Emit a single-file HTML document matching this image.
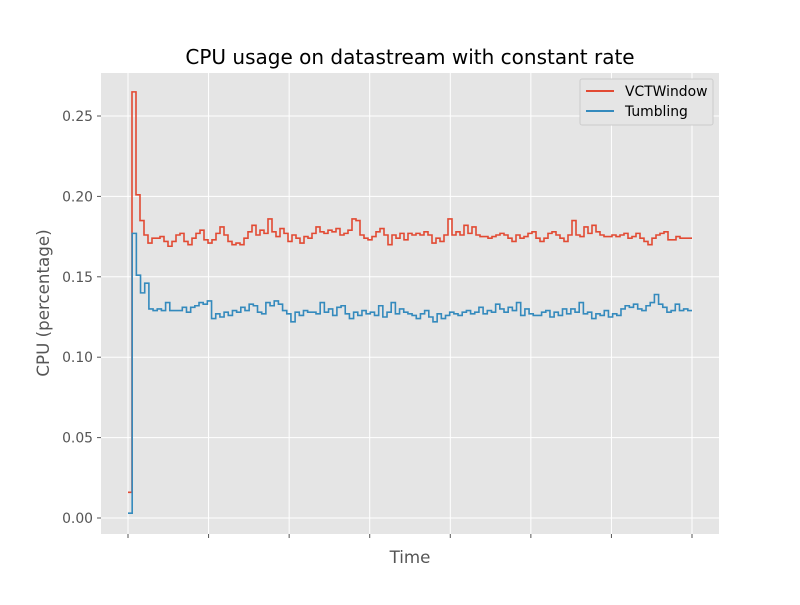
<!DOCTYPE html>
<html><head><meta charset="utf-8"><style>
body{margin:0;background:#fff;}
svg{font-family:"DejaVu Sans","Liberation Sans",sans-serif;}
</style></head><body>
<svg id="chart" width="800" height="600" viewBox="0 0 800 600" xmlns="http://www.w3.org/2000/svg">
<rect x="0" y="0" width="800" height="600" fill="#fff"/>
<rect x="101" y="73" width="618" height="461" fill="#e5e5e5"/>
<g id="grid"></g>
<g id="ticks"></g>
<g id="series"></g>
<text x="410" y="64" font-size="20" text-anchor="middle" fill="#000">CPU usage on datastream with constant rate</text>
<text x="410" y="563" font-size="16.7" text-anchor="middle" fill="#555">Time</text>
<text transform="translate(49,303) rotate(-90)" font-size="16.7" text-anchor="middle" fill="#555">CPU (percentage)</text>
<g>
<rect x="580" y="79" width="133" height="46" fill="#e5e5e5" stroke="#ccc" stroke-width="1" rx="2"/>
<line x1="586" y1="91" x2="614" y2="91" stroke="#e24a33" stroke-width="2"/>
<text x="625" y="96" font-size="13.9" fill="#000">VCTWindow</text>
<line x1="586" y1="111" x2="614" y2="111" stroke="#348abd" stroke-width="2"/>
<text x="625" y="116" font-size="13.9" fill="#000">Tumbling</text>
</g>
</svg>
<script>
const yTicks=[0.00,0.05,0.10,0.15,0.20,0.25];
const yTickLabels=["0.00","0.05","0.10","0.15","0.20","0.25"];
const xTickCount=8;
const vctWindow=[0.016,0.265,0.201,0.185,0.176,0.171,0.174,0.174,0.175,0.172,0.169,0.172,0.176,0.177,0.172,0.170,0.174,0.177,0.179,0.173,0.171,0.173,0.177,0.181,0.176,0.172,0.170,0.171,0.170,0.174,0.178,0.182,0.176,0.179,0.177,0.186,0.178,0.175,0.180,0.177,0.172,0.176,0.174,0.171,0.175,0.174,0.177,0.181,0.178,0.177,0.179,0.178,0.180,0.176,0.177,0.179,0.186,0.185,0.176,0.174,0.173,0.175,0.178,0.180,0.176,0.170,0.176,0.174,0.177,0.173,0.177,0.176,0.177,0.176,0.178,0.176,0.171,0.174,0.172,0.176,0.186,0.176,0.178,0.176,0.182,0.177,0.181,0.176,0.175,0.175,0.174,0.175,0.176,0.177,0.176,0.174,0.172,0.176,0.174,0.175,0.177,0.178,0.174,0.172,0.174,0.177,0.178,0.176,0.174,0.172,0.176,0.185,0.176,0.175,0.181,0.177,0.182,0.178,0.176,0.175,0.175,0.176,0.175,0.176,0.177,0.174,0.175,0.177,0.174,0.172,0.170,0.174,0.176,0.177,0.178,0.173,0.173,0.175,0.174,0.174,0.174];
const tumbling=[0.003,0.177,0.151,0.140,0.146,0.130,0.129,0.130,0.129,0.134,0.129,0.129,0.129,0.131,0.128,0.131,0.132,0.134,0.133,0.135,0.124,0.127,0.125,0.128,0.126,0.129,0.128,0.131,0.129,0.133,0.132,0.128,0.127,0.134,0.132,0.135,0.133,0.129,0.127,0.122,0.128,0.126,0.129,0.128,0.128,0.127,0.134,0.128,0.130,0.126,0.131,0.132,0.127,0.124,0.128,0.126,0.129,0.127,0.128,0.126,0.132,0.125,0.128,0.134,0.127,0.130,0.128,0.127,0.126,0.124,0.127,0.129,0.125,0.122,0.127,0.124,0.126,0.128,0.127,0.126,0.128,0.129,0.127,0.128,0.131,0.127,0.129,0.128,0.133,0.130,0.128,0.131,0.129,0.134,0.126,0.130,0.127,0.126,0.126,0.128,0.129,0.125,0.128,0.126,0.130,0.127,0.130,0.128,0.134,0.127,0.128,0.124,0.127,0.126,0.129,0.125,0.127,0.126,0.130,0.132,0.131,0.133,0.130,0.129,0.132,0.134,0.139,0.133,0.131,0.128,0.129,0.133,0.129,0.130,0.129];

const NS="http://www.w3.org/2000/svg";
const X0=128,X1=692;
function yScale(v){return 518-(v/0.25)*402;}
function xFrac(f){return X0+f*(X1-X0);}
function mk(tag,attrs,parent){const e=document.createElementNS(NS,tag);for(const k in attrs)e.setAttribute(k,attrs[k]);parent.appendChild(e);return e;}
const grid=document.getElementById('grid'),ticks=document.getElementById('ticks'),series=document.getElementById('series');
yTicks.forEach((v,i)=>{
  const y=yScale(v);
  const g=mk('line',{x1:101,x2:719,y1:y,y2:y,stroke:'#fff','stroke-width':1},grid);
  
  
  const t=mk('line',{x1:97,x2:101,y1:y,y2:y,stroke:'#555','stroke-width':1},ticks);
  
  
  const l=mk('text',{x:93,y:y+5,'font-size':13.9,'text-anchor':'end',fill:'#555'},ticks);
  l.textContent=yTickLabels[i];
  
  
});
for(let i=0;i<xTickCount;i++){
  const x=xFrac(i/(xTickCount-1));
  const g=mk('line',{x1:x,x2:x,y1:73,y2:534,stroke:'#fff','stroke-width':1},grid);
  
  
  const t=mk('line',{x1:x,x2:x,y1:534,y2:538,stroke:'#555','stroke-width':1},ticks);
  
  
}
function stepPath(vals){
  const n=vals.length;let d='';
  for(let i=0;i<n;i++){
    const xa=xFrac(i/n),xb=xFrac((i+1)/n),y=yScale(vals[i]);
    d+=(i===0?'M':'L')+xa.toFixed(2)+','+y.toFixed(2)+'L'+xb.toFixed(2)+','+y.toFixed(2);
  }
  return d;
}
const p1=mk('path',{d:stepPath(vctWindow),fill:'none',stroke:'#e24a33','stroke-width':1.6},series);


const p2=mk('path',{d:stepPath(tumbling),fill:'none',stroke:'#348abd','stroke-width':1.6},series);


</script>
</body></html>
